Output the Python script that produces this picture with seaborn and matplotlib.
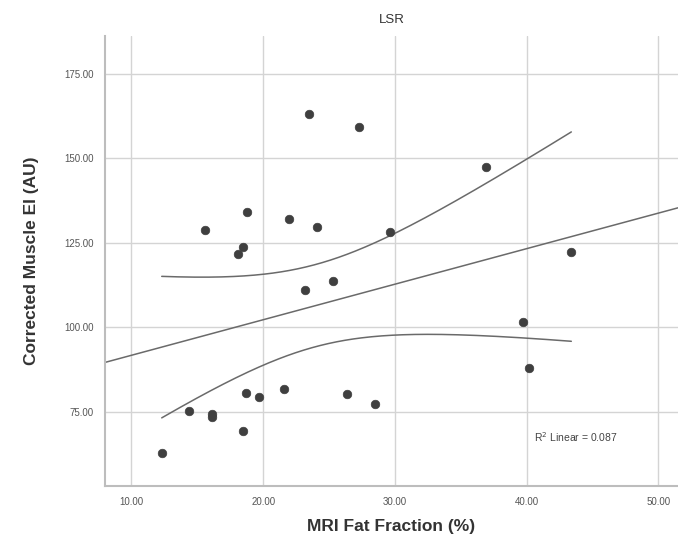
import numpy as np
import pandas as pd
import matplotlib
matplotlib.use("Agg")
import matplotlib.pyplot as plt
from matplotlib.ticker import FormatStrFormatter
import seaborn as sns

# Data
fat_fraction = [23.5, 27.3, 18.8, 15.6, 22.0, 24.1, 29.6, 18.5, 18.1, 23.2,
                25.3, 18.7, 19.7, 21.6, 26.4, 28.5, 14.4, 16.1, 16.1, 18.5,
                12.3, 36.9, 43.4, 39.7, 40.2]
muscle_ei = [163.1, 159.2, 134.0, 128.8, 132.1, 129.7, 128.3, 123.9, 121.8, 111.2,
             113.6, 80.6, 79.4, 81.8, 80.3, 77.3, 75.3, 74.4, 73.6, 69.5,
             63.0, 147.4, 122.4, 101.7, 87.9]
x_ticks = [10, 20, 30, 40, 50]
y_ticks = [75, 100, 125, 150, 175]
title = "LSR"
x_label = "MRI Fat Fraction (%)"
y_label = "Corrected Muscle EI (AU)"
r2_label = "0.087"
t_crit = 2.069  # t(0.975, df=23)

df = pd.DataFrame({"x": fat_fraction, "y": muscle_ei})

sns.set_style("whitegrid")
plt.rcParams["font.family"] = ["Liberation Sans", "DejaVu Sans"]

fig = plt.figure(figsize=(6.78, 5.49), dpi=100)
ax = fig.add_axes([0.155, 0.115, 0.845, 0.82])
ax.set_xlim(8, 51.5)
ax.set_ylim(53.2, 186.2)

grid_c = "#d4d4d4"
ax.grid(True, color=grid_c, linewidth=1.0)
for s in ["top", "right"]:
    ax.spines[s].set_visible(False)
for s in ["left", "bottom"]:
    ax.spines[s].set_color("#bdbdbd")
    ax.spines[s].set_linewidth(1.5)

# Fit line over full axis
sns.regplot(data=df, x="x", y="y", ax=ax, scatter=False, ci=None,
            truncate=False, line_kws=dict(color="#6a6a6a", linewidth=1.1))

# 95% confidence interval of mean (drawn as lines)
x = np.asarray(fat_fraction)
y = np.asarray(muscle_ei)
n = len(x)
b, a = np.polyfit(x, y, 1)
resid = y - (a + b * x)
s_err = np.sqrt(np.sum(resid ** 2) / (n - 2))
xs = np.linspace(x.min(), x.max(), 200)
se = s_err * np.sqrt(1 / n + (xs - x.mean()) ** 2 / np.sum((x - x.mean()) ** 2))
yhat = a + b * xs
ci_df = pd.DataFrame({"x": np.concatenate([xs, xs]),
                      "y": np.concatenate([yhat + t_crit * se, yhat - t_crit * se]),
                      "band": ["upper"] * len(xs) + ["lower"] * len(xs)})
sns.lineplot(data=ci_df, x="x", y="y", units="band", estimator=None, ax=ax,
             color="#6a6a6a", linewidth=1.1, sort=False)

sns.scatterplot(data=df, x="x", y="y", ax=ax, color="#3f3f3f", s=38,
                edgecolor="#3f3f3f", linewidth=0.5, zorder=5)

ax.text(0.822, 0.109, f"R$^2$ Linear = {r2_label}", transform=ax.transAxes,
        fontsize=7.5, color="#444444", ha="center", va="center")

ax.set_xticks(x_ticks)
ax.set_yticks(y_ticks)
ax.xaxis.set_major_formatter(FormatStrFormatter("%.2f"))
ax.yaxis.set_major_formatter(FormatStrFormatter("%.2f"))
ax.tick_params(axis="both", labelsize=7, labelcolor="#555555", length=0, pad=8)

ax.set_xlabel(x_label, fontsize=12.5, fontweight="bold", color="#333333", labelpad=9)
ax.set_ylabel(y_label, fontsize=12.5, fontweight="bold", color="#333333", labelpad=18)
ax.set_title(title, fontsize=9.5, color="#333333", pad=9)

fig.savefig("out.png", dpi=100)
